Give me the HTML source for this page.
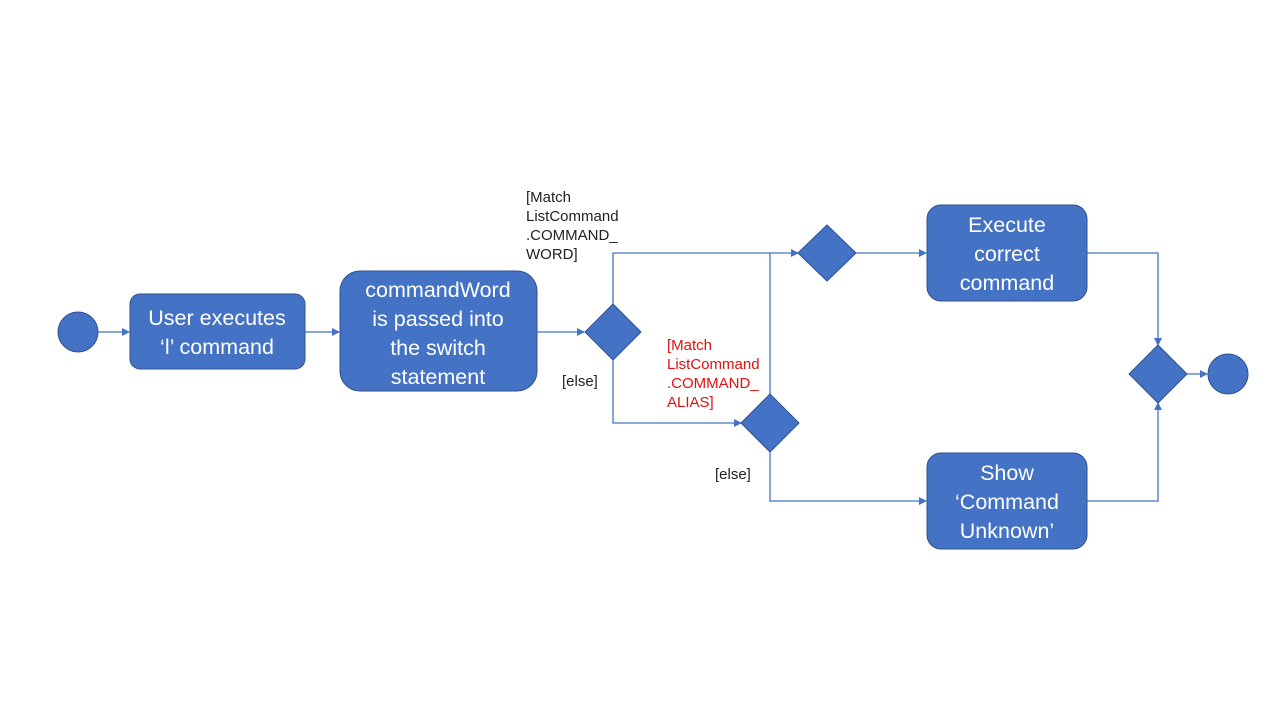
<!DOCTYPE html>
<html><head><style>
body{margin:0;width:1280px;height:720px;background:#fff;overflow:hidden}
svg{display:block}
text{font-family:"Liberation Sans",sans-serif}
.b{fill:#4472C4;stroke:#2F528F;stroke-width:1}
.l{stroke:#4472C4;stroke-width:1.3;fill:none}
.t{fill:#fff;font-size:21.5px;text-anchor:middle}
.s{font-size:15px;fill:#222}
.r{font-size:15px;fill:#e01010}
</style></head><body>
<svg width="1280" height="720" viewBox="0 0 1280 720">
<defs><marker id="a" markerWidth="8" markerHeight="8" refX="7" refY="4" orient="auto" markerUnits="userSpaceOnUse"><path d="M0,0 L8,4 L0,8 z" fill="#4472C4"/></marker></defs>
<circle class="b" cx="78" cy="332" r="20"/>
<path class="l" d="M98,332 H129" marker-end="url(#a)"/>
<rect class="b" x="130" y="294" width="175" height="75" rx="10"/>
<text class="t" x="217" y="325">User executes</text>
<text class="t" x="217" y="354">‘l’ command</text>
<path class="l" d="M305,332 H339" marker-end="url(#a)"/>
<rect class="b" x="340" y="271" width="197" height="120" rx="20"/>
<text class="t" x="438" y="297">commandWord</text>
<text class="t" x="438" y="326">is passed into</text>
<text class="t" x="438" y="355">the switch</text>
<text class="t" x="438" y="384">statement</text>
<path class="l" d="M537,332 H584" marker-end="url(#a)"/>
<path class="b" d="M613,304 L641,332 L613,360 L585,332 z"/>
<path class="l" d="M613,304 V253 H798" marker-end="url(#a)"/>
<path class="l" d="M613,360 V423 H741" marker-end="url(#a)"/>
<path class="l" d="M770,253 V395"/>
<path class="b" d="M827,225 L856,253 L827,281 L798,253 z"/>
<path class="b" d="M770,394 L799,423 L770,452 L741,423 z"/>
<path class="l" d="M856,253 H926" marker-end="url(#a)"/>
<path class="l" d="M770,452 V501 H926" marker-end="url(#a)"/>
<rect class="b" x="927" y="205" width="160" height="96" rx="14"/>
<text class="t" x="1007" y="232">Execute</text>
<text class="t" x="1007" y="261">correct</text>
<text class="t" x="1007" y="290">command</text>
<rect class="b" x="927" y="453" width="160" height="96" rx="14"/>
<text class="t" x="1007" y="480">Show</text>
<text class="t" x="1007" y="509">‘Command</text>
<text class="t" x="1007" y="538">Unknown’</text>
<path class="l" d="M1087,253 H1158 V345" marker-end="url(#a)"/>
<path class="l" d="M1087,501 H1158 V403" marker-end="url(#a)"/>
<path class="b" d="M1158,345 L1187,374 L1158,403 L1129,374 z"/>
<path class="l" d="M1187,374 H1207" marker-end="url(#a)"/>
<circle class="b" cx="1228" cy="374" r="20"/>
<text class="s" x="526" y="202">[Match</text>
<text class="s" x="526" y="221">ListCommand</text>
<text class="s" x="526" y="240">.COMMAND_</text>
<text class="s" x="526" y="259">WORD]</text>
<text class="s" x="562" y="386">[else]</text>
<text class="r" x="667" y="350">[Match</text>
<text class="r" x="667" y="369">ListCommand</text>
<text class="r" x="667" y="388">.COMMAND_</text>
<text class="r" x="667" y="407">ALIAS]</text>
<text class="s" x="715" y="479">[else]</text>
</svg>
</body></html>
